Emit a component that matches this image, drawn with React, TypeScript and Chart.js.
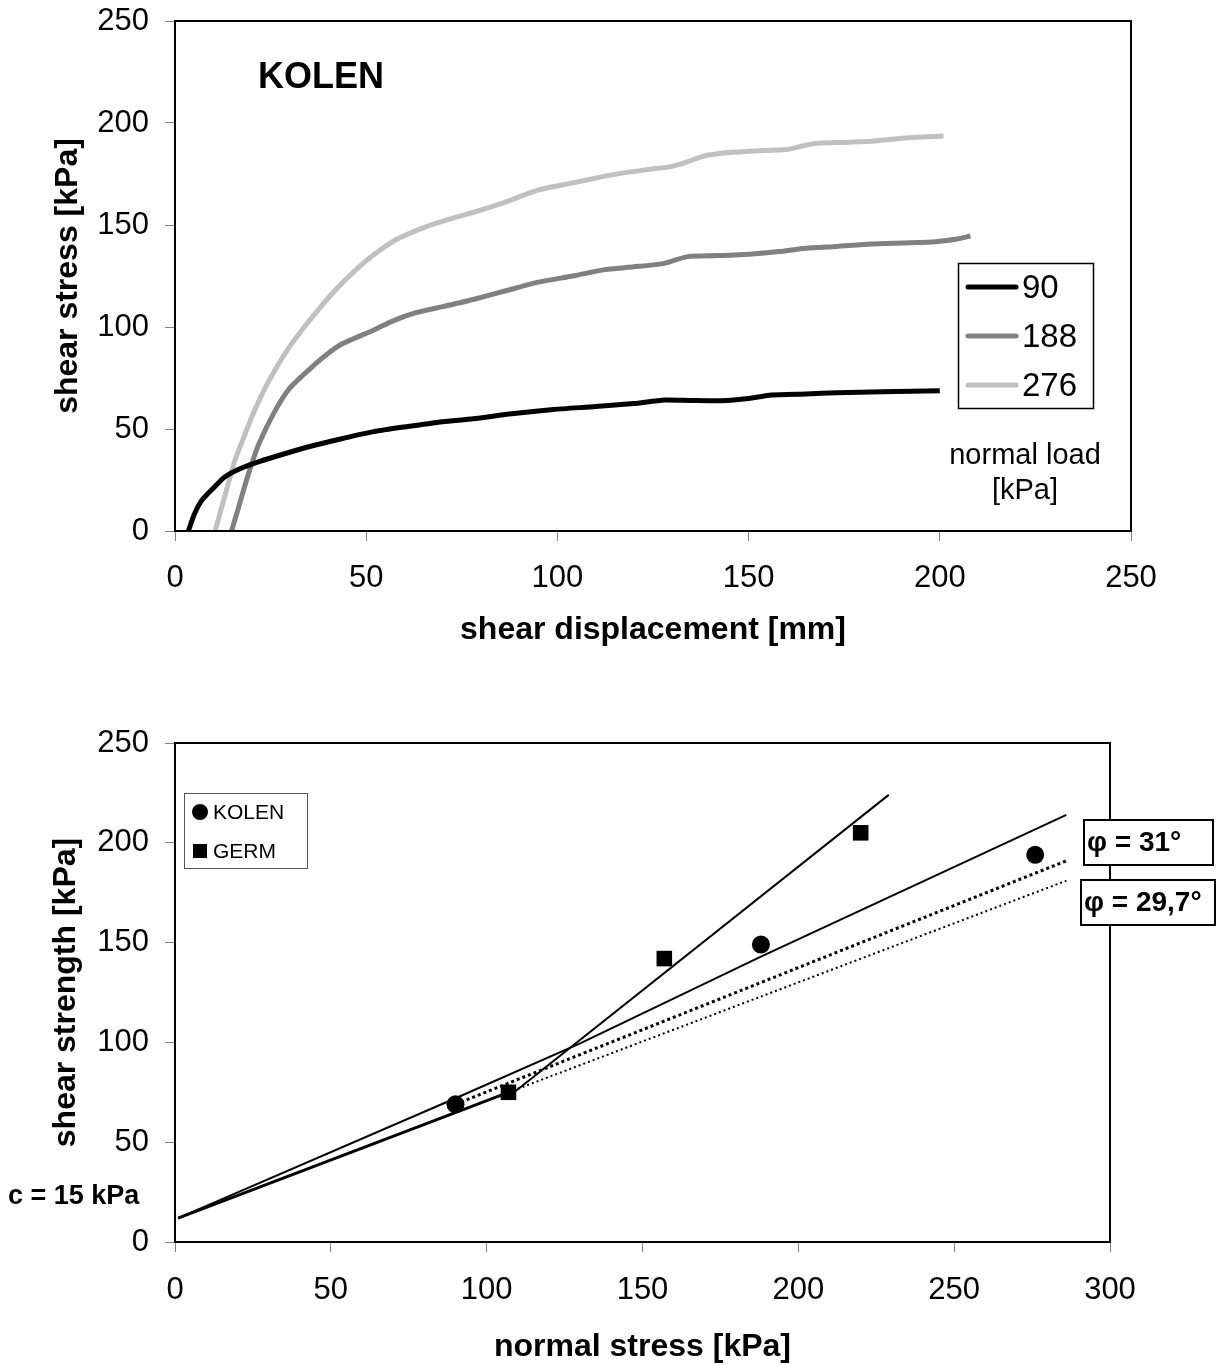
import React, { useEffect, useRef } from "react";
import { Chart, registerables } from "chart.js";

Chart.register(...registerables);

const FONT = "'Liberation Sans', Arial, Helvetica, sans-serif";

// ---------- Top chart: shear stress vs shear displacement ----------
const normalLoads = ["90", "188", "276"];
const seriesColors = ["#000000", "#808080", "#c0c0c0"];

const disp90 = [3.5, 5, 7, 10, 13, 17, 22, 28, 35, 43, 52, 60, 70, 78, 88, 99, 110, 120, 128, 135, 143, 150, 156, 165, 173, 185, 200];
const stress90 = [0, 8, 15, 21, 26.5, 30.5, 34, 37.5, 41.3, 45, 48.7, 51, 53.6, 55, 57.5, 59.6, 61, 62.5, 64.2, 64, 63.9, 65, 66.7, 67.2, 67.8, 68.2, 68.8];

const disp188 = [14.8, 17, 19.2, 22, 26.2, 30, 35, 40, 44, 52, 57, 63, 70, 78, 87, 95, 104, 112, 120, 128, 134, 142, 151, 158, 165, 173, 182, 190, 199, 204, 208];
const stress188 = [0, 14, 28, 43, 59, 70, 79, 87, 92, 98.5, 103, 107, 110, 113.5, 118, 122, 125, 128, 129.5, 131.2, 134.5, 135, 135.8, 137, 138.6, 139.5, 140.7, 141.2, 141.8, 143, 144.6];

const disp276 = [10.5, 13, 15.7, 18, 20.1, 23, 26.2, 29.5, 33.2, 37.5, 41.9, 47, 52.4, 58, 65.4, 72, 78.5, 86, 94.7, 103.4, 110, 116.5, 123, 129.6, 134, 138.3, 145, 152, 160, 163.5, 167.2, 175, 182, 190, 201];
const stress276 = [0, 17, 34.8, 46, 56, 68, 79, 89, 98.5, 108.5, 118, 127.5, 136, 143, 149, 153, 156.5, 161, 167, 170.4, 173, 175.3, 177, 178.6, 181, 183.8, 185.5, 186.3, 187, 188.5, 190, 190.5, 191, 192.5, 193.6];

const topTicksX = [0, 50, 100, 150, 200, 250];
const topTicksY = [0, 50, 100, 150, 200, 250];

// ---------- Bottom chart: shear strength vs normal stress ----------
const kolenNormal = [90, 188, 276];
const kolenShear = [69, 149, 194];
const germNormal = [107, 157, 220];
const germShear = [75, 142, 205];

const kolenEnvX = [1, 90, 130, 188, 286];
const kolenEnvY = [12, 72, 99.5, 143, 214];
const germEnvLowX = [1, 107];
const germEnvLowY = [12, 75];
const germEnvHighX = [108, 229];
const germEnvHighY = [74, 224];
const phi31X = [90, 286];
const phi31Y = [69, 191];
const phi297X = [107, 286];
const phi297Y = [75, 181];

const angleLabels = ["φ = 31°", "φ = 29,7°"];
const cohesionLabel = "c = 15 kPa";
const bottomTicksX = [0, 50, 100, 150, 200, 250, 300];
const bottomTicksY = [0, 50, 100, 150, 200, 250];

const pts = (xs: number[], ys: number[]) => xs.map((x, i) => ({ x, y: ys[i] }));

const tickFont = { family: FONT, size: 31 };
const titleFont = { family: FONT, size: 32, weight: "bold" as const };

const noPad = (s: any) => {
  s.paddingTop = 0;
  s.paddingBottom = 0;
  s.paddingLeft = 0;
  s.paddingRight = 0;
};

function axisCommon(min: number, max: number, step: number) {
  return {
    type: "linear" as const,
    min,
    max,
    ticks: { stepSize: step, font: tickFont, color: "#000" },
    grid: { drawOnChartArea: false, drawTicks: true, tickLength: 10, color: "#808080", lineWidth: 1 },
    border: { display: false },
  };
}

export default function App() {
  const topRef = useRef<HTMLCanvasElement | null>(null);
  const botRef = useRef<HTMLCanvasElement | null>(null);

  useEffect(() => {
    const topCtx = topRef.current!;
    const botCtx = botRef.current!;

    const topSeries = [
      { xs: disp90, ys: stress90 },
      { xs: disp188, ys: stress188 },
      { xs: disp276, ys: stress276 },
    ];

    const topDeco = {
      id: "topDeco",
      afterDraw(chart: any) {
        const ctx = chart.ctx;
        const a = chart.chartArea;
        ctx.save();
        ctx.strokeStyle = "#000";
        ctx.lineWidth = 2;
        ctx.strokeRect(a.left, a.top, a.right - a.left, a.bottom - a.top);

        ctx.fillStyle = "#000";
        ctx.font = `bold 36px ${FONT}`;
        ctx.textAlign = "left";
        ctx.textBaseline = "middle";
        ctx.fillText("KOLEN", 258, 78);

        // legend
        ctx.fillStyle = "#fff";
        ctx.fillRect(958, 263, 135, 145);
        ctx.lineWidth = 1.5;
        ctx.strokeStyle = "#000";
        ctx.strokeRect(958.5, 263.5, 135, 145);
        chart.data.datasets.forEach((ds: any, i: number) => {
          const y = 287 + i * 49;
          ctx.strokeStyle = ds.borderColor;
          ctx.lineWidth = 5;
          ctx.lineCap = "round";
          ctx.beginPath();
          ctx.moveTo(968, y);
          ctx.lineTo(1016, y);
          ctx.stroke();
          ctx.fillStyle = "#000";
          ctx.font = `33px ${FONT}`;
          ctx.textAlign = "left";
          ctx.textBaseline = "middle";
          ctx.fillText(ds.label, 1022, y + 2);
        });

        ctx.font = `29px ${FONT}`;
        ctx.textAlign = "center";
        ctx.fillStyle = "#000";
        ctx.fillText("normal load", 1025, 456);
        ctx.fillText("[kPa]", 1025, 491);
        ctx.restore();
      },
    };

    const topChart = new Chart(topCtx, {
      type: "scatter",
      data: {
        datasets: topSeries.map((s, i) => ({
          label: normalLoads[i],
          data: pts(s.xs, s.ys),
          showLine: true,
          borderColor: seriesColors[i],
          backgroundColor: seriesColors[i],
          borderWidth: 5,
          pointRadius: 0,
          tension: 0.2,
        })),
      },
      options: {
        responsive: false,
        animation: false,
        events: [],
        layout: { padding: { top: 21, right: 92, left: 0, bottom: 0 } },
        plugins: { legend: { display: false }, tooltip: { enabled: false } },
        scales: {
          x: {
            ...axisCommon(topTicksX[0], topTicksX[topTicksX.length - 1], topTicksX[1] - topTicksX[0]),
            ticks: { stepSize: 50, font: tickFont, color: "#000", padding: 19, maxRotation: 0 },
            title: { display: true, text: "shear displacement [mm]", font: titleFont, color: "#000", padding: { top: 0, bottom: 31 } },
            afterFit: (s: any) => { s.height = 149; noPad(s); },
          },
          y: {
            ...axisCommon(topTicksY[0], topTicksY[topTicksY.length - 1], topTicksY[1] - topTicksY[0]),
            ticks: { stepSize: 50, font: tickFont, color: "#000", padding: 16 },
            title: { display: true, text: "shear stress [kPa]", font: titleFont, color: "#000", padding: { top: 49, bottom: 0 } },
            afterFit: (s: any) => { s.width = 175; noPad(s); },
          },
        },
      } as any,
      plugins: [topDeco],
    });

    const botDeco = {
      id: "botDeco",
      afterDraw(chart: any) {
        const ctx = chart.ctx;
        const a = chart.chartArea;
        ctx.save();
        ctx.strokeStyle = "#000";
        ctx.lineWidth = 2;
        ctx.strokeRect(a.left, a.top, a.right - a.left, a.bottom - a.top);

        // legend
        ctx.fillStyle = "#fff";
        ctx.fillRect(184, 113, 123, 75);
        ctx.strokeStyle = "#555";
        ctx.lineWidth = 1;
        ctx.strokeRect(184.5, 113.5, 123, 75);
        ctx.fillStyle = "#000";
        ctx.beginPath();
        ctx.arc(200, 132, 8, 0, Math.PI * 2);
        ctx.fill();
        ctx.fillRect(193, 164, 14, 14);
        ctx.font = `21px ${FONT}`;
        ctx.textAlign = "left";
        ctx.textBaseline = "middle";
        ctx.fillText(chart.data.datasets[0].label, 213, 133);
        ctx.fillText(chart.data.datasets[1].label, 213, 172);

        // angle boxes
        const boxes = [
          { x: 1084, y: 140, w: 129, h: 45 },
          { x: 1081, y: 200, w: 134, h: 45 },
        ];
        boxes.forEach((b, i) => {
          ctx.fillStyle = "#fff";
          ctx.fillRect(b.x, b.y, b.w, b.h);
          ctx.strokeStyle = "#000";
          ctx.lineWidth = 2;
          ctx.strokeRect(b.x, b.y, b.w, b.h);
          ctx.fillStyle = "#000";
          ctx.font = `bold 28px ${FONT}`;
          ctx.textAlign = "left";
          ctx.textBaseline = "middle";
          ctx.fillText(angleLabels[i], b.x + 3, b.y + b.h / 2 + 1);
        });

        ctx.font = `bold 27px ${FONT}`;
        ctx.textAlign = "left";
        ctx.fillText(cohesionLabel, 8, 517);
        ctx.restore();
      },
    };

    const lineDs = (xs: number[], ys: number[], width: number, dash: number[] = []) => ({
      label: "",
      data: pts(xs, ys),
      showLine: true,
      borderColor: "#000",
      backgroundColor: "#000",
      borderWidth: width,
      borderDash: dash,
      pointRadius: 0,
    });

    const botChart = new Chart(botCtx, {
      type: "scatter",
      data: {
        datasets: [
          { label: "KOLEN", data: pts(kolenNormal, kolenShear), pointStyle: "circle", pointRadius: 9, backgroundColor: "#000", borderColor: "#000", borderWidth: 0 },
          { label: "GERM", data: pts(germNormal, germShear), pointStyle: "rect", pointRadius: 11, backgroundColor: "#000", borderColor: "#000", borderWidth: 0 },
          lineDs(kolenEnvX, kolenEnvY, 2),
          lineDs(germEnvLowX, germEnvLowY, 3),
          lineDs(germEnvHighX, germEnvHighY, 2),
          lineDs(phi31X, phi31Y, 3, [3, 3]),
          lineDs(phi297X, phi297Y, 2, [2, 3]),
        ],
      },
      options: {
        responsive: false,
        animation: false,
        events: [],
        layout: { padding: { top: 63, right: 113, left: 0, bottom: 0 } },
        plugins: { legend: { display: false }, tooltip: { enabled: false } },
        scales: {
          x: {
            ...axisCommon(bottomTicksX[0], bottomTicksX[bottomTicksX.length - 1], 50),
            ticks: { stepSize: 50, font: tickFont, color: "#000", padding: 20, maxRotation: 0 },
            title: { display: true, text: "normal stress [kPa]", font: titleFont, color: "#000", padding: { top: 0, bottom: 0 } },
            afterFit: (s: any) => { s.height = 124; noPad(s); },
          },
          y: {
            ...axisCommon(bottomTicksY[0], bottomTicksY[bottomTicksY.length - 1], 50),
            ticks: { stepSize: 50, font: tickFont, color: "#000", padding: 16 },
            title: { display: true, text: "shear strength [kPa]", font: titleFont, color: "#000", padding: { top: 47, bottom: 0 } },
            afterFit: (s: any) => { s.width = 175; noPad(s); },
          },
        },
      } as any,
      plugins: [botDeco],
    });

    return () => {
      topChart.destroy();
      botChart.destroy();
    };
  }, []);

  return (
    <div style={{ position: "absolute", left: 0, top: 0, width: 1223, height: 1366, background: "#fff" }}>
      <canvas ref={topRef} width={1223} height={680} style={{ position: "absolute", left: 0, top: 0, width: 1223, height: 680 }} />
      <canvas ref={botRef} width={1223} height={686} style={{ position: "absolute", left: 0, top: 680, width: 1223, height: 686 }} />
    </div>
  );
}
